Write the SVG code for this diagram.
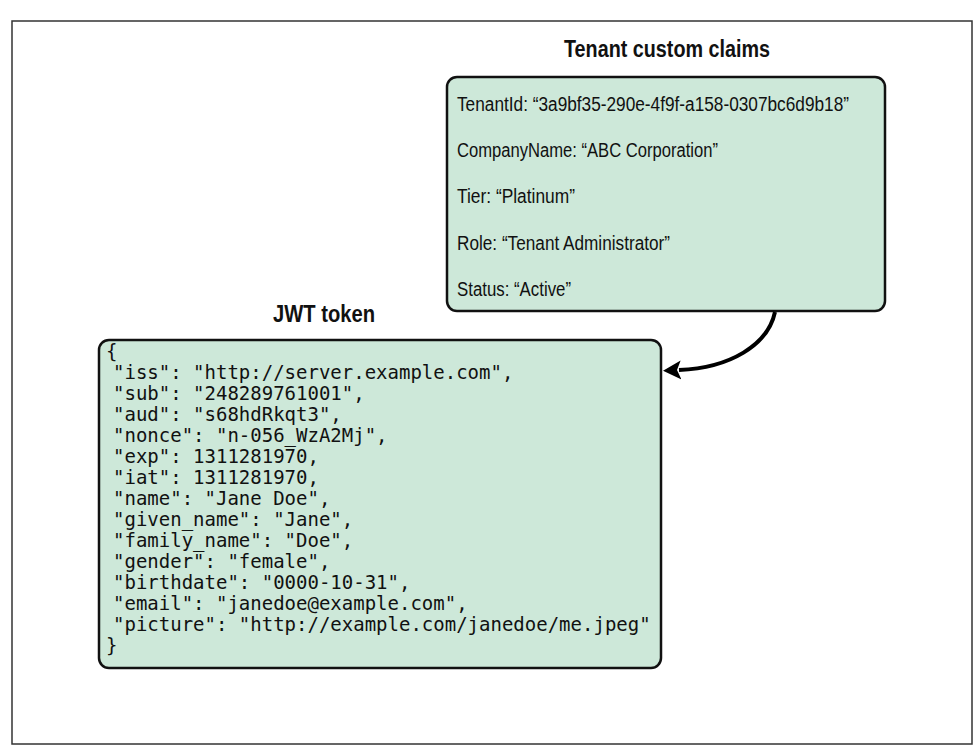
<svg xmlns="http://www.w3.org/2000/svg" width="979" height="753" viewBox="0 0 979 753">
  <defs>
    <style>
      .box { fill: #cde8d9; stroke: #111; stroke-width: 2.5; }
      .title { font-family: "Liberation Sans", Arial, sans-serif; font-weight: bold; font-size: 23px; fill: #111; }
      .claim { font-family: "Liberation Sans", Arial, sans-serif; font-size: 20px; fill: #111; }
      .code { font-family: "DejaVu Sans Mono", "Liberation Mono", monospace; font-size: 19px; fill: #111; white-space: pre; }
      .conn { fill: none; stroke: #000; stroke-width: 4; }
    </style>
    <marker id="arrow" markerWidth="20" markerHeight="20" refX="2" refY="10" orient="auto" markerUnits="userSpaceOnUse">
      <path d="M0,0.5 L18,10 L0,19.5 L4,10 Z" fill="#000"/>
    </marker>
  </defs>
  <rect x="0" y="0" width="979" height="753" fill="#fff"/>
  <rect x="12" y="21" width="960" height="723" fill="none" stroke="#333" stroke-width="1.5"/>

  <g id="tenant-claims">
    <text class="title" x="667" y="57" text-anchor="middle" textLength="206" lengthAdjust="spacingAndGlyphs">Tenant custom claims</text>
    <rect class="box" x="447" y="77" width="438" height="234" rx="10"/>
    <text class="claim" x="457" y="111" textLength="392" lengthAdjust="spacingAndGlyphs">TenantId: “3a9bf35-290e-4f9f-a158-0307bc6d9b18”</text>
    <text class="claim" x="457" y="157" textLength="261" lengthAdjust="spacingAndGlyphs">CompanyName: “ABC Corporation”</text>
    <text class="claim" x="457" y="203" textLength="118" lengthAdjust="spacingAndGlyphs">Tier: “Platinum”</text>
    <text class="claim" x="457" y="250" textLength="213" lengthAdjust="spacingAndGlyphs">Role: “Tenant Administrator”</text>
    <text class="claim" x="457" y="296" textLength="114" lengthAdjust="spacingAndGlyphs">Status: “Active”</text>
  </g>

  <g id="jwt-token">
    <text class="title" x="324" y="322" text-anchor="middle" textLength="102" lengthAdjust="spacingAndGlyphs">JWT token</text>
    <rect class="box" x="99" y="340" width="562" height="328" rx="10"/>
    <text class="code" x="106" y="358">{</text>
    <text class="code" x="113" y="379">"iss": "http://server.example.com",</text>
    <text class="code" x="113" y="400">"sub": "248289761001",</text>
    <text class="code" x="113" y="421">"aud": "s68hdRkqt3",</text>
    <text class="code" x="113" y="442">"nonce": "n-056_WzA2Mj",</text>
    <text class="code" x="113" y="463">"exp": 1311281970,</text>
    <text class="code" x="113" y="484">"iat": 1311281970,</text>
    <text class="code" x="113" y="505">"name": "Jane Doe",</text>
    <text class="code" x="113" y="526">"given_name": "Jane",</text>
    <text class="code" x="113" y="547">"family_name": "Doe",</text>
    <text class="code" x="113" y="568">"gender": "female",</text>
    <text class="code" x="113" y="589">"birthdate": "0000-10-31",</text>
    <text class="code" x="113" y="610">"email": "janedoe@example.com",</text>
    <text class="code" x="113" y="631">"picture": "http://example.com/janedoe/me.jpeg"</text>
    <text class="code" x="106" y="652">}</text>
  </g>

  <g id="connectors">
    <path class="conn" d="M775,312 C768,345 730,368 679,370" marker-end="url(#arrow)"/>
  </g>
</svg>
